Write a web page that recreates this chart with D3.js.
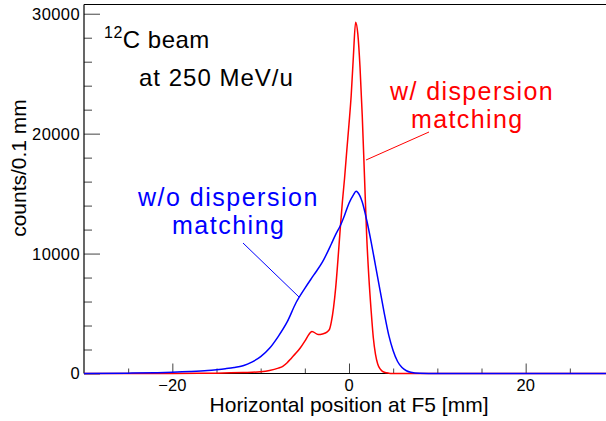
<!DOCTYPE html>
<html>
<head>
<meta charset="utf-8">
<script src="https://cdn.jsdelivr.net/npm/d3@7"></script>
<style>
  html, body { margin: 0; padding: 0; background: #fff; }
  svg { display: block; font-family: "Liberation Sans", Arial, Helvetica, sans-serif; }
</style>
</head>
<body>
<svg id="chart" width="606" height="421"></svg>
<script>
// Beam profile at F5: counts per 0.1 mm bin versus horizontal position (mm)
const positionsWith = [-30, -20, -15, -12, -10, -9, -8, -7.5, -7, -6.5, -6, -5.5, -5, -4.5, -4.2, -4,
  -3.5, -3, -2.5, -2.2, -2, -1.75, -1.5, -1.25, -1, -0.75, -0.5, -0.25, 0, 0.25, 0.5, 0.75,
  1, 1.25, 1.5, 1.75, 2, 2.25, 2.5, 2.75, 3, 3.25, 3.5, 3.75, 4, 4.5, 5, 6, 30];
const countsWith = [0, 10, 30, 80, 150, 250, 450, 600, 900, 1300, 1700, 2150, 2700, 3300, 3500, 3450,
  3250, 3300, 3450, 3700, 4300, 5500, 7200, 9500, 12000, 14300, 16300, 18600, 20800, 23200, 26500, 29300,
  28300, 25500, 21500, 16500, 11500, 8000, 5300, 3000, 1600, 800, 400, 200, 100, 30, 10, 0, 0];

const positionsWithout = [-30, -25, -22, -20, -18, -16, -15, -14, -13, -12, -11, -10, -9, -8, -7, -6,
  -5, -4, -3, -2, -1.5, -1, -0.5, 0, 0.5, 0.8, 1, 1.5, 2, 2.5, 3, 3.5, 4, 4.5, 5, 5.5, 6, 6.5, 7, 8, 10, 30];
const countsWithout = [0, 30, 60, 100, 160, 250, 320, 400, 500, 650, 950, 1400, 2100, 3100, 4300, 5900,
  7100, 8200, 9300, 10800, 11600, 12300, 13200, 14200, 14900, 15200, 15100, 14300, 12800, 11000, 9000, 7000,
  5000, 3200, 1900, 1000, 500, 230, 100, 20, 0, 0];

const xMajorTicks = [-20, 0, 20];
const xMinorTicks = [-25, -15, -10, -5, 5, 10, 15, 25];
const yMajorTicks = [0, 10000, 20000, 30000];
const yMinorTicks = [2000, 4000, 6000, 8000, 12000, 14000, 16000, 18000, 22000, 24000, 26000, 28000];

const xDomain = [-30, 30];
const yDomain = [0, 30770];

const svg = d3.select("#chart");
const margin = { left: 84, top: 4.5, right: 614, bottom: 373.5 };

const x = d3.scaleLinear().domain(xDomain).range([margin.left, margin.right]);
const y = d3.scaleLinear().domain(yDomain).range([margin.bottom, margin.top]);

const tickColor = "#444";
const fmtTick = v => (v < 0 ? "\u2212" + Math.abs(v) : String(v));

// ticks drawn inward from the frame
const yMajorAxis = d3.axisRight(y).tickValues(yMajorTicks).tickSize(16).tickFormat("");
const yMinorAxis = d3.axisRight(y).tickValues(yMinorTicks).tickSize(8).tickFormat("");
const xMajorAxis = d3.axisTop(x).tickValues(xMajorTicks).tickSize(10).tickFormat("");
const xMinorAxis = d3.axisTop(x).tickValues(xMinorTicks).tickSize(5).tickFormat("");

function styleAxis(g) {
  g.select(".domain").remove();
  g.selectAll(".tick line").attr("stroke", tickColor).attr("stroke-width", 1);
}

svg.append("g").attr("transform", `translate(${margin.left},0)`).call(yMajorAxis).call(styleAxis);
svg.append("g").attr("transform", `translate(${margin.left},0)`).call(yMinorAxis).call(styleAxis);
svg.append("g").attr("transform", `translate(0,${margin.bottom})`).call(xMajorAxis).call(styleAxis);
svg.append("g").attr("transform", `translate(0,${margin.bottom})`).call(xMinorAxis).call(styleAxis);

// tick labels
svg.append("g").selectAll("text").data(yMajorTicks).join("text")
  .attr("x", margin.left - 4)
  .attr("y", d => y(d))
  .attr("dy", "0.36em")
  .attr("text-anchor", "end")
  .attr("font-size", 16.5)
  .attr("letter-spacing", 0.4)
  .attr("fill", "#000")
  .text(fmtTick);

svg.append("g").selectAll("text").data(xMajorTicks).join("text")
  .attr("x", d => x(d))
  .attr("y", 391)
  .attr("text-anchor", "middle")
  .attr("font-size", 16.5)
  .attr("fill", "#000")
  .text(fmtTick);

// frame
svg.append("line").attr("x1", margin.left).attr("x2", margin.left)
  .attr("y1", margin.top).attr("y2", margin.bottom).attr("stroke", "#000").attr("stroke-width", 1.2);
svg.append("line").attr("x1", margin.left).attr("x2", margin.right)
  .attr("y1", margin.top).attr("y2", margin.top).attr("stroke", "#000").attr("stroke-width", 1.2);
svg.append("line").attr("x1", margin.left).attr("x2", margin.right)
  .attr("y1", margin.bottom).attr("y2", margin.bottom).attr("stroke", "#000").attr("stroke-width", 1.2);

// axis titles
svg.append("text")
  .attr("x", (margin.left + margin.right) / 2)
  .attr("y", 412)
  .attr("text-anchor", "middle")
  .attr("font-size", 21)
  .attr("fill", "#000")
  .text("Horizontal position at F5 [mm]");

svg.append("text")
  .attr("transform", `translate(26,168) rotate(-90)`)
  .attr("text-anchor", "middle")
  .attr("font-size", 21)
  .attr("fill", "#000")
  .text("counts/0.1 mm");

// histograms
const line = d3.line().x(d => x(d[0])).y(d => y(d[1])).curve(d3.curveMonotoneX);
const withData = d3.zip(positionsWith, countsWith);
const withoutData = d3.zip(positionsWithout, countsWithout);

const plot = svg.append("g");
plot.append("path").datum(withData)
  .attr("d", line).attr("fill", "none").attr("stroke", "#ff0000").attr("stroke-width", 1.5);
plot.append("path").datum(withoutData)
  .attr("d", line).attr("fill", "none").attr("stroke", "#0000ff").attr("stroke-width", 1.5);

// annotations
const beam = svg.append("text").attr("x", 104).attr("y", 47.5).attr("fill", "#000").attr("letter-spacing", 0.5);
beam.append("tspan").attr("font-size", 16).attr("dy", -10).text("12");
beam.append("tspan").attr("font-size", 24).attr("dy", 10).text("C beam");

svg.append("text").attr("x", 139).attr("y", 86).attr("font-size", 24)
  .attr("letter-spacing", 1.0).attr("fill", "#000").text("at 250 MeV/u");

svg.append("text").attr("x", 390).attr("y", 100).attr("font-size", 25)
  .attr("letter-spacing", 1.4).attr("fill", "#ff0000").text("w/ dispersion");
svg.append("text").attr("x", 411).attr("y", 128).attr("font-size", 25)
  .attr("letter-spacing", 1.4).attr("fill", "#ff0000").text("matching");
svg.append("line").attr("x1", 366).attr("y1", 160).attr("x2", 429).attr("y2", 132)
  .attr("stroke", "#ff0000").attr("stroke-width", 1);

svg.append("text").attr("x", 138).attr("y", 206).attr("font-size", 25)
  .attr("letter-spacing", 1.5).attr("fill", "#0000ff").text("w/o dispersion");
svg.append("text").attr("x", 172).attr("y", 234).attr("font-size", 25)
  .attr("letter-spacing", 1.5).attr("fill", "#0000ff").text("matching");
svg.append("line").attr("x1", 243).attr("y1", 243).attr("x2", 299).attr("y2", 297)
  .attr("stroke", "#0000ff").attr("stroke-width", 1);
</script>
</body>
</html>
